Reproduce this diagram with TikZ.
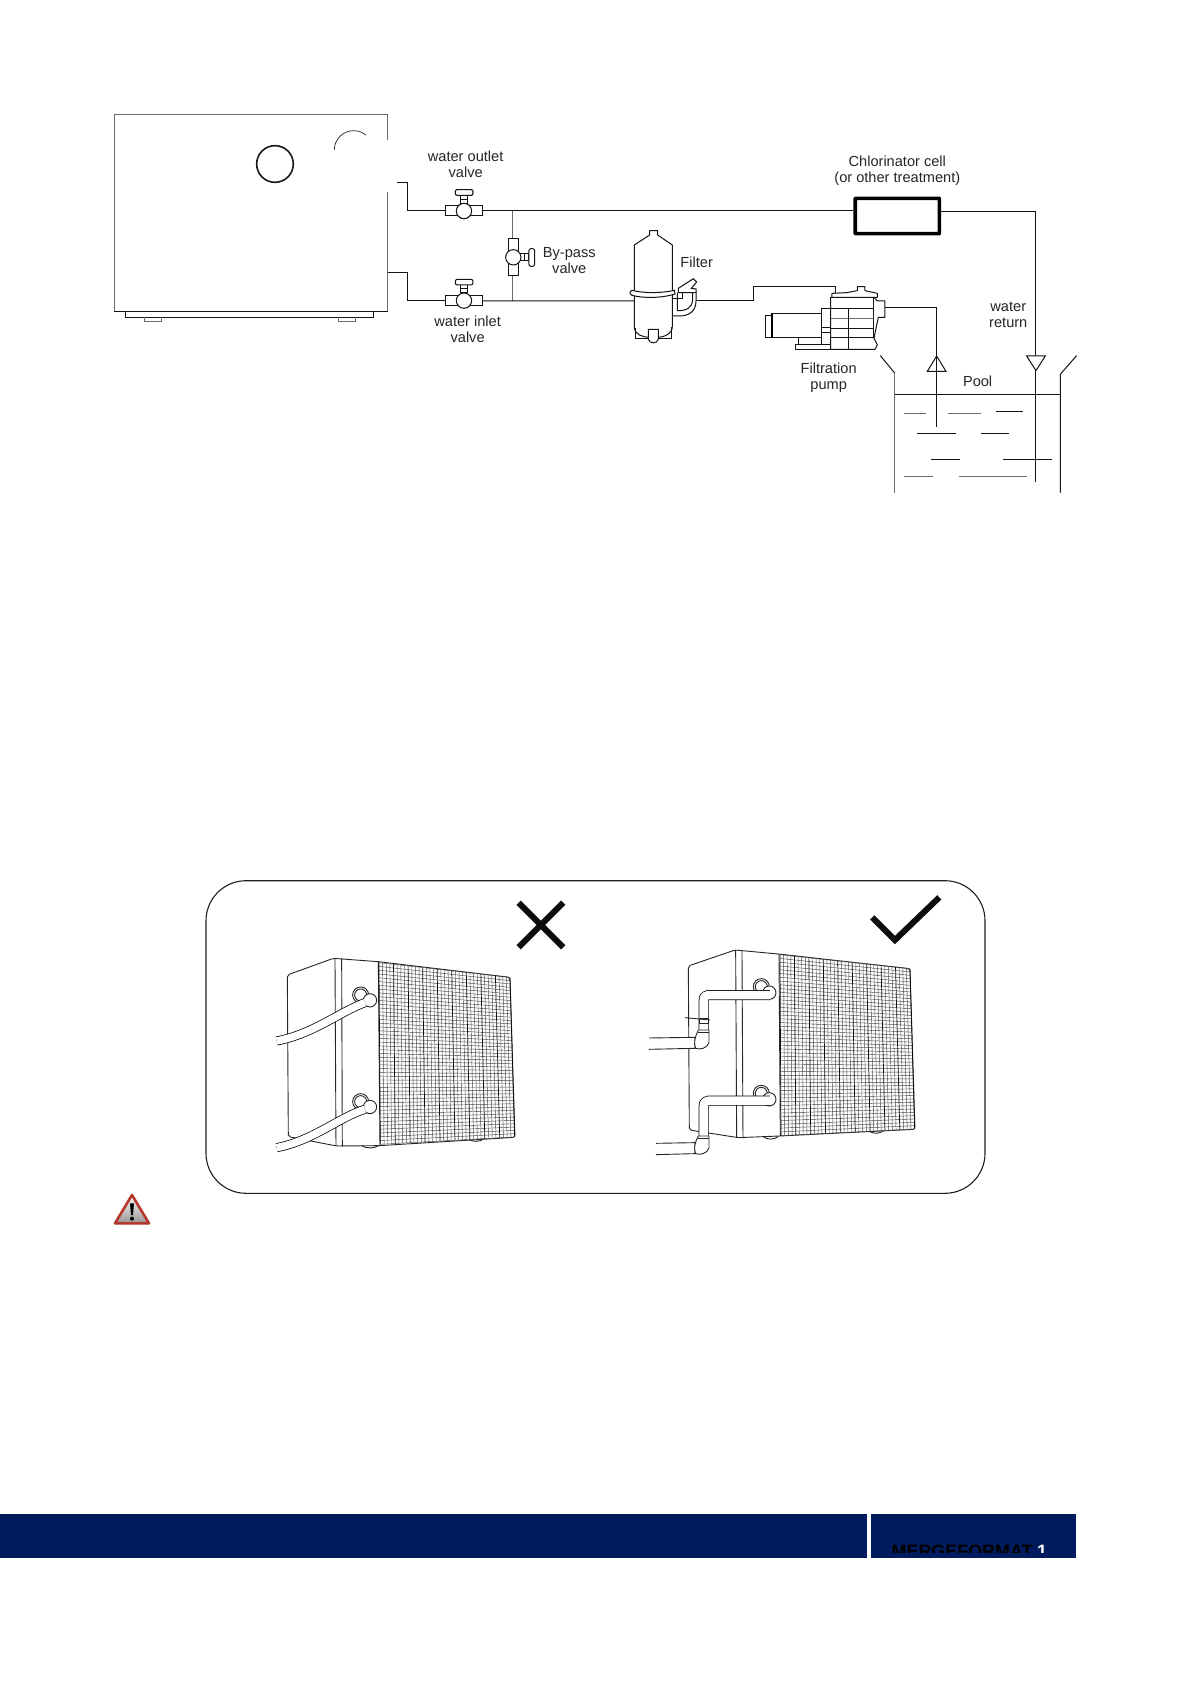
\documentclass[tikz,border=0pt]{standalone}
\usepackage{fontspec}
\setmainfont{Liberation Sans}
\newcommand{\zpipe}[2][9]{\draw[line width=#1pt,black,line join=round] #2;\draw[line width=#1pt-1.5pt,white,line join=round] #2;}
\newcommand{\coilmesh}[8]{%
 \foreach \i in {0,...,48}{\pgfmathsetmacro\tt{\i/48}
  \draw[meshline] ({#1+(#7-#1)*\tt},{#2+(#8-#2)*\tt}) -- ({#3+(#5-#3)*\tt},{#4+(#6-#4)*\tt});}
 \foreach \i in {0,...,36}{\pgfmathsetmacro\tt{\i/36}
  \pgfmathparse{mod(\i,4)==0 ? "meshdark" : "meshline"}\edef\st{\pgfmathresult}
  \draw[style=\st] ({#1+(#3-#1)*\tt},{#2+(#4-#2)*\tt}) -- ({#7+(#5-#7)*\tt},{#8+(#6-#8)*\tt});}
}
\definecolor{navy}{HTML}{001C5E}
\definecolor{warnred}{HTML}{B5392F}
\tikzset{
 x=1pt,y=-1pt,
 ln/.style={line width=1pt,black!92},
 gl/.style={line width=1pt,black!58},
 wf/.style={ln,fill=white},
 lab/.style={font=\fontsize{14.6}{16}\selectfont,align=center,text=black!85,inner sep=0pt},
 meshline/.style={line width=.45pt,black!72},
 meshdark/.style={line width=.7pt,black!95},
 unitln/.style={line width=.9pt,black!85,line join=round},
 bigmark/.style={line width=6pt,black!95},
 valve/.pic={
  \draw[wf] (-55,-16) rectangle (55,14);
  \draw[wf] (-10,-47) rectangle (10,-23);
  \draw[ln] (-10,-35) -- (10,-35);
  \draw[wf,rounded corners=2pt] (-26,-64) rectangle (27,-47);
  \draw[wf] (0,0) circle[radius=23];
 }
}
\begin{document}
\begin{tikzpicture}
\useasboundingbox (0,0) rectangle (1191,1684);
\fill[white] (0,0) rectangle (1191,1684);
% ---------- heat pump outline and left circuit
\begin{scope}[shift={(100,100)},x=.3333pt,y=-.3333pt]
 \draw[gl] (863,120) -- (863,43) -- (43,43) -- (43,634);
 \draw[gl] (863,275) -- (863,634);
 \draw[ln] (43,634) -- (863,634);
 \draw[ln] (76,634) -- (76,652) -- (821,652) -- (821,634);
 \draw[gl] (133,652) -- (133,664) -- (185,664) -- (185,652);
 \draw[gl] (715,652) -- (715,664) -- (767,664) -- (767,652);
 \draw[line width=1.6pt,black!90] (525,192) circle[radius=55];
 \draw[line width=.7pt,black!85] (703,150) arc[start angle=180,end angle=310,radius=58];
 \coordinate (outS) at (890,247); \coordinate (outB) at (922,333);
 \coordinate (inS) at (863,518);  \coordinate (inB) at (922,602);
 \coordinate (vOut) at (1092,333); \coordinate (vIn) at (1092,602);
 \coordinate (jTop) at (1239,333); \coordinate (jBot) at (1239,603);
 \coordinate (vBy) at (1240,472);
 \draw[ln] (outS) -| (outB) -- (vOut);
 \draw[ln] (inS) -| (inB) -- (vIn);
 \draw[gl] (jTop) -- (jBot);
 \draw[ln] (vIn) -- (jBot);
 \pic at (vOut) {valve};
 \node[lab] (lOut) at (1097,194) {water outlet\\valve};
 \node[lab] (lIn) at (1103,688) {water inlet\\valve};
 \node[lab] (lBy) at (1408,482) {By-pass\\valve};
\end{scope}
% ---------- pool and right circuit
\begin{scope}[shift={(580,140)},x=.3333pt,y=-.3333pt]
 \node[draw,line width=3.6pt,black,minimum width=29.5mm+.2pt,minimum height=12.4mm,inner sep=0pt,rounded corners=.5pt] (chl) at (952,228) {};
 \coordinate (rt) at (1368,214); \coordinate (rb) at (1368,1027);
 \draw[ln] (chl.east |- rt) -- (rt) -- (rb);
 \draw[wf] (1340,648) -- (1396,648) -- (1368,692) -- cycle;
 \draw[gl] (945,703) -- (945,1058);
 \draw[ln] (901,647) -- (945,700);
 \draw[ln] (1490,647) -- (1441,703) -- (1441,1058);
 \draw[ln] (945,763) -- (1441,763);
 \coordinate (pOut) at (915,503); \coordinate (pD) at (1070,862);
 \draw[ln] (pOut) -| (pD);
 \draw[wf,fill=none] (1070,648) -- (1042,694) -- (1098,694) -- cycle;
 \foreach \a/\b/\c/\g in {973/1037/822/gl,1105/1204/822/gl,1248/1330/816/ln,1012/1127/881/ln,1203/1288/881/ln,1054/1141/958/ln,1270/1417/958/ln,971/1058/1011/gl,1136/1342/1011/gl}
  \draw[style=\g] (\a,\c) -- (\b,\c);
 \node[lab] (lChl) at (952,93) {Chlorinator cell\\(or other treatment)};
 \node[lab] (lFil) at (350,366) {Filter};
 \node[lab] (lRet) at (1285,526) {water\\return};
 \node[lab] (lPump) at (746,713) {Filtration\\pump};
 \node[lab] (lPool) at (1193,724) {Pool};
\end{scope}
\draw[ln] (vOut) -- (chl.west |- vOut);
\begin{scope}[shift={(100,100)},x=.3333pt,y=-.3333pt]
 \pic at (vOut) {valve};
 \pic at (vIn) {valve};
 \pic[rotate=-90] at (vBy) {valve};
\end{scope}
% ---------- filter and pump
\begin{scope}[shift={(620,220)},x=.3333pt,y=-.3333pt]
 \coordinate (fW) at (43,243); \coordinate (fE) at (228,243);
 \coordinate (k1) at (400,243); \coordinate (k2) at (400,199); \coordinate (k3) at (648,199); \coordinate (k4) at (648,218);
 \draw[ln] (jBot) -- (fW);
 \draw[ln] (fE) -- (k1) -- (k2) -- (k3) -- (k4);
 \draw[wf,line join=round] (43,75) -- (89,45) -- (89,32) -- (113,32) -- (113,45) -- (157,75) -- (157,320) .. controls (157,345) and (125,352) .. (113,352) -- (89,352) .. controls (70,352) and (43,345) .. (43,320) -- cycle;
 \draw[ln] (47,325) -- (47,355) -- (155,355) -- (155,322);
 \draw[wf] (85,328) -- (115,328) -- (115,358) .. controls (112,372) and (88,372) .. (85,358) -- cycle;
 \draw[wf] (36,211) .. controls (70,220) and (125,220) .. (163,211) -- (165,222) .. controls (125,235) and (70,235) .. (36,226) .. controls (28,222) and (28,214) .. (36,211) -- cycle;
 \draw[ln] (157,235) -- (188,235) -- (188,218);
 \draw[ln] (172,218) -- (172,272) .. controls (200,272) and (215,265) .. (218,240) -- (218,218);
 \draw[ln] (157,288) -- (172,288) .. controls (205,290) and (228,275) .. (228,243) -- (228,218);
 \draw[wf] (175,205) -- (220,176) -- (230,186) -- (214,205) -- (228,207) -- (228,218) -- (175,218) -- cycle;
 % pump
 \draw[wf] (437,287) rectangle (456,352);
 \draw[wf] (456,280) rectangle (605,352);
 \draw[line width=1.8pt,black] (456,280) -- (456,352);
 \draw[wf] (535,352) rectangle (605,375);
 \draw[wf] (527,375) rectangle (632,388);
 \draw[wf] (605,265) rectangle (632,375);
 \draw[ln] (605,322) -- (632,322); \draw[ln] (605,338) -- (632,338);
 \draw[wf,line join=round] (632,232) -- (762,232) -- (772,243) -- (795,243) -- (795,292) -- (775,292) -- (762,355) -- (772,375) -- (765,388) -- (632,388) -- cycle;
 \draw[ln] (762,232) -- (762,355);
 \foreach \yy/\g in {265/ln,297/gl,325/ln,353/ln} \draw[style=\g] (632,\yy) -- (762,\yy);
 \draw[ln] (686,265) -- (686,388);
 \draw[wf,line join=round] (636,232) -- (636,220) -- (680,218) -- (712,212) -- (712,200) -- (735,200) -- (735,212) -- (772,220) -- (772,232) -- cycle;
\end{scope}
% ---------- lower panel
\draw[line width=1.1pt,black!88,rounded corners=40pt] (206,880.7) rectangle (985,1193.3);
% ---------- wrong installation
\begin{scope}[shift={(200,880)},x=.3333pt,y=-.3333pt]
 \draw[bigmark] (956,68) -- (1090,202);
 \draw[bigmark] (1090,68) -- (956,202);
 \draw[unitln,fill=white,rounded corners=2pt] (262,285) -- (400,235) -- (535,245) -- (930,292) -- (945,772) -- (538,797) -- (410,798) -- (265,770) -- cycle;
 \draw[unitln] (405,235) -- (408,798);
 \draw[unitln] (425,235) -- (427,800);
 \draw[unitln] (535,245) -- (540,796);
 \draw[unitln] (485,797) .. controls (495,806) and (525,806) .. (535,797);
 \draw[unitln] (808,779) .. controls (820,786) and (840,786) .. (850,777);
 \coilmesh{537}{248}{930}{292}{944}{771}{541}{793}
 \foreach \yy in {345,665}{
  \draw[unitln,fill=white] (482,\yy) circle[radius=24];
  \draw[unitln] (482,\yy) circle[radius=18];
  \draw[unitln,fill=white] (510,\yy+16) circle[radius=20];
 }
 \zpipe{(230,483) .. controls (340,462) and (420,395) .. (495,368)}
 \zpipe{(230,803) .. controls (340,782) and (420,710) .. (495,688)}
\end{scope}
% ---------- correct installation
\begin{scope}[shift={(600,880)},x=.3333pt,y=-.3333pt]
 \draw[bigmark,line join=miter] (817,112) -- (885,180) -- (1018,52);
 \draw[unitln,fill=white,rounded corners=2pt] (265,258) -- (405,210) -- (535,222) -- (930,266) -- (945,748) -- (540,768) -- (415,773) -- (268,750) -- cycle;
 \draw[unitln] (407,210) -- (410,773);
 \draw[unitln] (426,210) -- (429,775);
 \draw[unitln] (537,222) -- (541,768);
 \draw[unitln] (490,770) .. controls (500,780) and (525,780) .. (535,769);
 \draw[unitln] (808,754) .. controls (820,762) and (840,762) .. (850,752);
 \coilmesh{540}{224}{930}{266}{944}{747}{543}{767}
 \foreach \yy in {320,640}{
  \draw[unitln,fill=white] (484,\yy) circle[radius=24];
  \draw[unitln] (484,\yy) circle[radius=18];
  \draw[unitln,fill=white] (508,\yy+18) circle[radius=20];
 }
 \zpipe[10]{(510,345) -- (325,345) .. controls (316,345) and (311,350) .. (311,362) -- (311,460)}
 \zpipe[10]{(510,662) -- (325,662) .. controls (316,662) and (311,667) .. (311,680) -- (311,775)}
 \draw[unitln] (255,413) -- (330,420);
 \draw[unitln] (298,415) rectangle (326,430);
 \draw[unitln,fill=white] (147,474) -- (285,472) -- (285,505) -- (147,508);
 \draw[unitln,fill=white] (295,450) -- (327,450) -- (327,488) .. controls (322,505) and (300,510) .. (287,505) .. controls (280,490) and (285,470) .. (295,450) -- cycle;
 \draw[unitln] (295,456) -- (327,456);
 \draw[unitln,fill=white] (168,790) -- (285,788) -- (285,821) -- (168,824);
 \draw[unitln,fill=white] (295,768) -- (327,768) -- (327,804) .. controls (322,821) and (300,826) .. (287,821) .. controls (280,806) and (285,786) .. (295,768) -- cycle;
 \draw[unitln] (295,774) -- (327,774);
\end{scope}
% ---------- warning triangle
\begin{scope}[shift={(100,1180)},x=.3333pt,y=-.3333pt]
 \shade[top color=white,bottom color=black!42] (96,42) -- (150,132) -- (42,132) -- cycle;
 \draw[warnred,line width=2.6pt,line join=round] (96,45) -- (147,130) -- (45,130) -- cycle;
 \fill[black] (90,70) -- (102,70) -- (99,105) -- (93,105) -- cycle;
 \fill[black] (96,116) circle[radius=6];
\end{scope}
% ---------- footer
\fill[navy] (0,1514) rectangle (867,1557.7);
\fill[navy] (871,1514) rectangle (1075.7,1557.7);
\begin{scope}
 \clip (871,1514) rectangle (1075.7,1552);
 \node[anchor=base west,inner sep=0pt,font=\fontsize{17.9}{20}\bfseries\selectfont,text=black] (mf) at (891.5,1557.5) {MERGEFORMAT};
 \node[anchor=base west,inner sep=0pt,font=\fontsize{17.9}{20}\bfseries\selectfont,text=white] (pg) at (1037,1557.5) {1};
\end{scope}
\end{tikzpicture}
\end{document}
